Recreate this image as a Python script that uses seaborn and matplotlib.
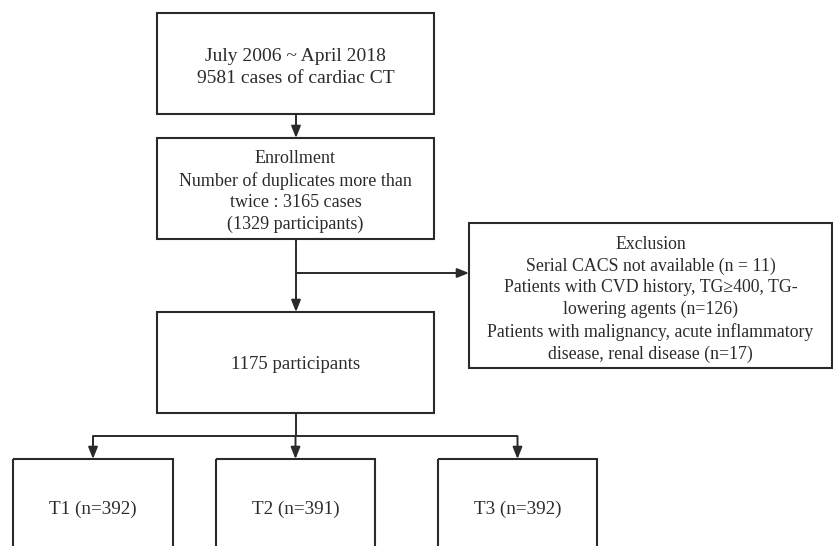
import matplotlib
matplotlib.use("Agg")
import matplotlib.pyplot as plt
from matplotlib.patches import Rectangle
import seaborn as sns

# Datos del diagrama de flujo
periodo = "July 2006 ~ April 2018"
n_casos_ct = 9581
n_casos_duplicados = 3165
n_participantes_enrol = 1329
motivos_exclusion = ["Serial CACS not available", "Patients with CVD history, TG\u2265400, TG-\nlowering agents",
                     "Patients with malignancy, acute inflammatory\ndisease, renal disease"]
n_exclusion = [11, 126, 17]
n_final = 1175
grupos = ["T1", "T2", "T3"]
n_grupos = [392, 391, 392]

sns.set_style("white")
plt.rcParams['font.family'] = ['Liberation Serif', 'DejaVu Serif']

COLOR_LINEA = "#2a2a2a"
COLOR_TEXTO = "#2b2b2b"


def interlineado(fs, paso=22.0):
    # distancia entre líneas en px / altura base de la línea en matplotlib
    return paso / (0.923 * fs * 100 / 72)


fig = plt.figure(figsize=(8.33, 5.46), dpi=100)
ax = fig.add_axes([0, 0, 1, 1])
ax.set_xlim(0, 833)
ax.set_ylim(546, 0)
ax.axis("off")


def caja(x0, y0, x1, y1, texto, fs, dy=0, paso=22.0):
    ax.add_patch(Rectangle((x0, y0), x1 - x0, y1 - y0, fill=False,
                           edgecolor=COLOR_LINEA, lw=1.5))
    ax.text((x0 + x1) / 2, (y0 + y1) / 2 + dy, texto, ha="center", va="center",
            fontsize=fs, color=COLOR_TEXTO, linespacing=interlineado(fs, paso))


def flecha(x0, y0, x1, y1):
    ax.annotate("", xy=(x1, y1), xytext=(x0, y0),
                arrowprops=dict(arrowstyle="-|>,head_length=0.7,head_width=0.28",
                                color=COLOR_LINEA, lw=1.4, shrinkA=0, shrinkB=0))


def linea(xs, ys):
    ax.plot(xs, ys, color=COLOR_LINEA, lw=1.4, solid_capstyle="butt")


# Cajas principales
caja(157, 13, 434, 114, f"{periodo}\n{n_casos_ct} cases of cardiac CT", 14, dy=4, paso=24.0)
caja(157, 138, 434, 239,
     f"Enrollment\nNumber of duplicates more than\ntwice : {n_casos_duplicados} cases\n"
     f"({n_participantes_enrol} participants)", 13, dy=3)

# Caja de exclusión
lineas_excl = ["Exclusion"]
for motivo, n in zip(motivos_exclusion, n_exclusion):
    if n == 11:
        lineas_excl.append(f"{motivo} (n = {n})")
    else:
        lineas_excl.append(f"{motivo} (n={n})")
caja(469, 223, 832, 368, "\n".join(lineas_excl), 12.75, dy=4)

caja(157, 312, 434, 413, f"{n_final} participants", 13.5, dy=2)

# Grupos por terciles
cajas_grupos = [(13, 173), (216, 375), (438, 597)]
for (x0, x1), g, n in zip(cajas_grupos, grupos, n_grupos):
    ax.add_patch(Rectangle((x0, 459), x1 - x0, 120, fill=False,
                           edgecolor=COLOR_LINEA, lw=1.5))
    ax.text((x0 + x1) / 2, 509, f"{g} (n={n})", ha="center", va="center",
            fontsize=13.8, color=COLOR_TEXTO)

# Conectores
flecha(296, 114, 296, 138)
flecha(296, 239, 296, 312)
flecha(296, 273, 469, 273)
linea([296, 296], [413, 436])
linea([93, 517], [436, 436])
for (x0, x1) in cajas_grupos:
    xc = (x0 + x1) / 2
    flecha(xc, 436, xc, 459)

fig.savefig("out.png", dpi=100)
